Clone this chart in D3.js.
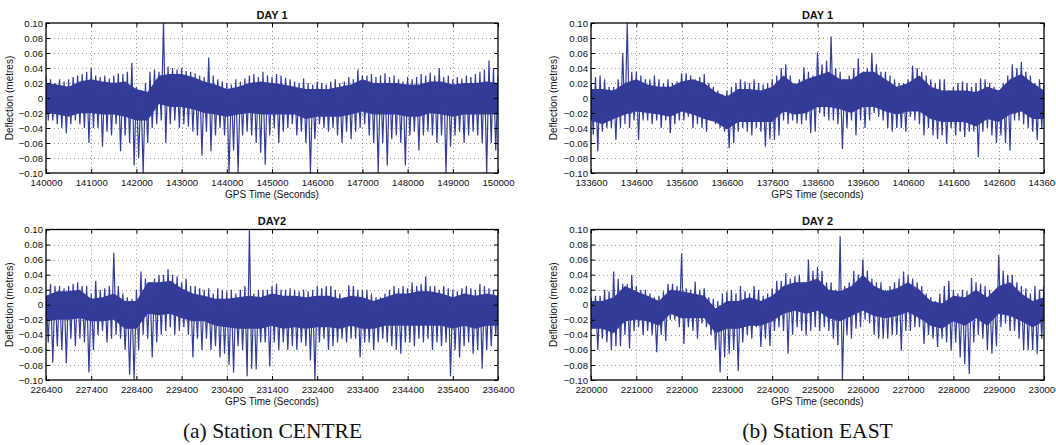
<!DOCTYPE html>
<html>
<head>
<meta charset="utf-8">
<script src="https://cdn.jsdelivr.net/npm/d3@7"></script>
<style>
  body { margin: 0; background: #fff; }
  svg { display: block; }
</style>
</head>
<body>
<svg id="chart" width="1056" height="445"></svg>
<script>
// ---- Deflection records (metres) ----
// Solid band of the trace, sampled every 250 s
// Peaks / troughs of the trace, one per 100 s bin

// Station CENTRE, day 1 (140000 - 150000 s)
const centreDay1Ticks = [140000, 141000, 142000, 143000, 144000, 145000, 146000, 147000, 148000, 149000, 150000];
const centreDay1Upper = [0.020,0.018,0.015,0.022,0.025,0.022,0.020,0.022,0.012,0.008,
  0.030,0.032,0.032,0.028,0.022,0.018,0.012,0.015,0.020,0.022,
  0.020,0.018,0.015,0.012,0.012,0.012,0.015,0.018,0.025,0.020,
  0.020,0.020,0.018,0.018,0.022,0.022,0.018,0.020,0.020,0.022,
  0.020];
const centreDay1Lower = [-0.020,-0.022,-0.025,-0.020,-0.020,-0.022,-0.022,-0.025,-0.030,-0.030,
  -0.008,-0.012,-0.012,-0.015,-0.020,-0.022,-0.025,-0.022,-0.020,-0.022,
  -0.022,-0.022,-0.022,-0.028,-0.025,-0.025,-0.025,-0.022,-0.018,-0.022,
  -0.022,-0.022,-0.025,-0.025,-0.020,-0.022,-0.025,-0.022,-0.022,-0.022,
  -0.022];
const centreDay1Peaks = [0.030,0.025,0.020,0.025,0.022,0.025,0.028,0.030,0.032,0.035,
  0.040,0.030,0.028,0.030,0.026,0.030,0.033,0.032,0.035,0.047,
  0.015,0.010,0.020,0.035,0.038,0.035,0.100,0.042,0.040,0.038,
  0.040,0.036,0.035,0.033,0.030,0.028,0.054,0.030,0.025,0.022,
  0.020,0.018,0.025,0.022,0.026,0.030,0.032,0.028,0.035,0.030,
  0.028,0.032,0.030,0.027,0.025,0.022,0.020,0.026,0.020,0.018,
  0.022,0.020,0.018,0.022,0.025,0.020,0.022,0.028,0.025,0.038,
  0.030,0.030,0.032,0.028,0.030,0.033,0.028,0.030,0.025,0.022,
  0.028,0.025,0.028,0.032,0.030,0.034,0.030,0.040,0.028,0.030,
  0.025,0.028,0.026,0.030,0.028,0.032,0.035,0.038,0.050,0.040,
  0.030];
const centreDay1Troughs = [-0.030,-0.030,-0.035,-0.040,-0.047,-0.035,-0.030,-0.035,-0.040,-0.060,
  -0.040,-0.040,-0.065,-0.045,-0.050,-0.035,-0.071,-0.050,-0.060,-0.090,
  -0.080,-0.100,-0.060,-0.040,-0.035,-0.030,-0.060,-0.035,-0.030,-0.040,
  -0.035,-0.038,-0.045,-0.050,-0.077,-0.045,-0.071,-0.050,-0.040,-0.050,
  -0.100,-0.070,-0.100,-0.050,-0.045,-0.050,-0.060,-0.073,-0.089,-0.050,
  -0.040,-0.060,-0.045,-0.040,-0.035,-0.050,-0.045,-0.060,-0.100,-0.055,
  -0.035,-0.040,-0.045,-0.040,-0.050,-0.060,-0.045,-0.055,-0.045,-0.040,
  -0.035,-0.050,-0.060,-0.100,-0.060,-0.090,-0.055,-0.050,-0.060,-0.090,
  -0.050,-0.045,-0.070,-0.050,-0.045,-0.050,-0.060,-0.050,-0.100,-0.065,
  -0.050,-0.045,-0.060,-0.050,-0.045,-0.050,-0.060,-0.100,-0.060,-0.070,
  -0.040];

// Station EAST, day 1 (133600 - 143600 s)
const eastDay1Ticks = [133600, 134600, 135600, 136600, 137600, 138600, 139600, 140600, 141600, 142600, 143600];
const eastDay1Upper = [0.012,0.012,0.010,0.020,0.025,0.018,0.015,0.015,0.022,0.025,
  0.020,0.008,0.002,0.012,0.012,0.010,0.015,0.030,0.018,0.025,
  0.030,0.035,0.025,0.025,0.035,0.035,0.025,0.015,0.020,0.030,
  0.015,0.010,0.010,0.010,0.008,0.015,0.010,0.025,0.032,0.020,
  0.010];
const eastDay1Lower = [-0.030,-0.035,-0.028,-0.022,-0.018,-0.020,-0.022,-0.025,-0.018,-0.022,
  -0.028,-0.032,-0.042,-0.032,-0.032,-0.032,-0.032,-0.018,-0.022,-0.020,
  -0.012,-0.012,-0.015,-0.020,-0.012,-0.012,-0.018,-0.022,-0.018,-0.018,
  -0.028,-0.032,-0.032,-0.032,-0.038,-0.028,-0.032,-0.022,-0.018,-0.028,
  -0.028];
const eastDay1Peaks = [0.020,0.028,0.030,0.025,0.015,0.015,0.025,0.060,0.100,0.035,
  0.035,0.030,0.025,0.025,0.030,0.025,0.020,0.025,0.020,0.022,
  0.033,0.033,0.030,0.025,0.028,0.032,0.020,0.015,0.010,0.005,
  0.010,0.015,0.020,0.025,0.022,0.020,0.025,0.020,0.018,0.020,
  0.025,0.030,0.040,0.045,0.030,0.020,0.025,0.041,0.035,0.030,
  0.061,0.045,0.050,0.082,0.040,0.035,0.025,0.030,0.040,0.053,
  0.030,0.040,0.060,0.045,0.035,0.035,0.030,0.025,0.020,0.020,
  0.025,0.043,0.040,0.035,0.030,0.025,0.020,0.025,0.025,0.010,
  0.015,0.020,0.022,0.020,0.015,0.020,0.026,0.025,0.020,0.015,
  0.010,0.020,0.030,0.045,0.040,0.048,0.035,0.030,0.020,0.025,
  0.020];
const eastDay1Troughs = [-0.049,-0.071,-0.045,-0.040,-0.040,-0.056,-0.040,-0.035,-0.040,-0.030,
  -0.056,-0.030,-0.030,-0.035,-0.030,-0.040,-0.030,-0.047,-0.035,-0.030,
  -0.030,-0.025,-0.040,-0.035,-0.040,-0.045,-0.030,-0.035,-0.040,-0.045,
  -0.067,-0.060,-0.045,-0.040,-0.045,-0.050,-0.040,-0.045,-0.065,-0.055,
  -0.056,-0.050,-0.030,-0.035,-0.030,-0.034,-0.035,-0.030,-0.047,-0.045,
  -0.020,-0.025,-0.030,-0.030,-0.035,-0.068,-0.040,-0.030,-0.050,-0.030,
  -0.040,-0.030,-0.020,-0.025,-0.030,-0.040,-0.045,-0.040,-0.040,-0.045,
  -0.025,-0.030,-0.035,-0.050,-0.040,-0.050,-0.055,-0.050,-0.061,-0.040,
  -0.050,-0.045,-0.052,-0.045,-0.045,-0.079,-0.045,-0.040,-0.050,-0.060,
  -0.050,-0.060,-0.070,-0.030,-0.030,-0.035,-0.040,-0.045,-0.056,-0.040,
  -0.030];

// Station CENTRE, day 2 (226400 - 236400 s)
const centreDay2Ticks = [226400, 227400, 228400, 229400, 230400, 231400, 232400, 233400, 234400, 235400, 236400];
const centreDay2Upper = [0.012,0.018,0.018,0.020,0.008,0.010,0.015,0.005,0.005,0.030,
  0.030,0.032,0.022,0.015,0.012,0.008,0.008,0.010,0.012,0.010,
  0.015,0.012,0.012,0.010,0.012,0.012,0.008,0.012,0.010,0.005,
  0.010,0.015,0.015,0.018,0.018,0.015,0.010,0.015,0.012,0.015,
  0.012];
const centreDay2Lower = [-0.022,-0.020,-0.020,-0.018,-0.022,-0.022,-0.020,-0.032,-0.032,-0.012,
  -0.014,-0.012,-0.018,-0.022,-0.022,-0.028,-0.030,-0.032,-0.032,-0.032,
  -0.028,-0.032,-0.030,-0.032,-0.030,-0.030,-0.032,-0.028,-0.032,-0.032,
  -0.028,-0.028,-0.028,-0.028,-0.028,-0.028,-0.032,-0.028,-0.032,-0.028,
  -0.028];
const centreDay2Peaks = [0.012,0.028,0.025,0.025,0.022,0.025,0.028,0.030,0.025,0.025,
  0.015,0.032,0.020,0.022,0.025,0.069,0.025,0.015,0.010,0.008,
  0.020,0.044,0.035,0.030,0.035,0.040,0.040,0.047,0.040,0.038,
  0.030,0.035,0.025,0.025,0.022,0.020,0.022,0.015,0.022,0.020,
  0.018,0.020,0.015,0.020,0.025,0.100,0.015,0.020,0.020,0.020,
  0.025,0.028,0.020,0.020,0.022,0.020,0.018,0.020,0.018,0.020,
  0.025,0.022,0.025,0.025,0.020,0.015,0.010,0.026,0.025,0.020,
  0.020,0.020,0.015,0.010,0.010,0.015,0.020,0.025,0.022,0.025,
  0.022,0.030,0.025,0.028,0.038,0.025,0.025,0.020,0.025,0.022,
  0.020,0.018,0.022,0.025,0.022,0.020,0.028,0.025,0.022,0.020,
  0.020];
const centreDay2Troughs = [-0.050,-0.077,-0.055,-0.060,-0.078,-0.045,-0.055,-0.045,-0.050,-0.090,
  -0.060,-0.040,-0.035,-0.050,-0.045,-0.040,-0.045,-0.060,-0.093,-0.100,
  -0.060,-0.040,-0.045,-0.070,-0.050,-0.040,-0.035,-0.030,-0.040,-0.035,
  -0.030,-0.040,-0.070,-0.045,-0.060,-0.045,-0.060,-0.055,-0.070,-0.065,
  -0.080,-0.090,-0.055,-0.060,-0.095,-0.085,-0.086,-0.050,-0.050,-0.082,
  -0.050,-0.060,-0.050,-0.060,-0.055,-0.060,-0.050,-0.055,-0.074,-0.100,
  -0.050,-0.045,-0.060,-0.055,-0.050,-0.045,-0.050,-0.045,-0.045,-0.070,
  -0.050,-0.050,-0.060,-0.050,-0.045,-0.050,-0.055,-0.060,-0.065,-0.050,
  -0.050,-0.055,-0.045,-0.050,-0.045,-0.060,-0.050,-0.055,-0.050,-0.095,
  -0.060,-0.070,-0.055,-0.050,-0.065,-0.060,-0.085,-0.060,-0.055,-0.040,
  -0.030];

// Station EAST, day 2 (220000 - 230000 s)
const eastDay2Ticks = [220000, 221000, 222000, 223000, 224000, 225000, 226000, 227000, 228000, 229000, 230000];
const eastDay2Upper = [0.005,0.005,0.010,0.025,0.018,0.012,0.005,0.020,0.018,0.015,
  0.012,-0.005,0.005,0.005,0.010,0.005,0.012,0.025,0.030,0.030,
  0.035,0.020,0.018,0.025,0.040,0.025,0.018,0.022,0.030,0.020,
  0.005,0.002,0.012,0.010,0.020,0.010,0.025,0.030,0.015,0.005,
  0.010];
const eastDay2Lower = [-0.032,-0.032,-0.038,-0.022,-0.020,-0.022,-0.028,-0.012,-0.018,-0.018,
  -0.018,-0.038,-0.032,-0.032,-0.028,-0.028,-0.022,-0.012,-0.008,-0.012,
  -0.008,-0.018,-0.022,-0.015,-0.008,-0.015,-0.018,-0.015,-0.010,-0.018,
  -0.028,-0.032,-0.022,-0.028,-0.018,-0.028,-0.012,-0.015,-0.022,-0.030,
  -0.022];
const eastDay2Peaks = [0.010,0.012,0.012,0.020,0.018,0.044,0.035,0.028,0.028,0.040,
  0.025,0.020,0.020,0.015,0.010,0.012,0.018,0.028,0.028,0.025,
  0.068,0.022,0.020,0.031,0.020,0.022,0.010,0.008,0.005,0.015,
  0.018,0.020,0.015,0.025,0.018,0.015,0.025,0.020,0.012,0.015,
  0.022,0.032,0.032,0.042,0.035,0.038,0.040,0.030,0.060,0.045,
  0.050,0.045,0.030,0.030,0.020,0.091,0.025,0.030,0.045,0.040,
  0.060,0.045,0.035,0.030,0.030,0.020,0.025,0.030,0.035,0.044,
  0.040,0.035,0.030,0.025,0.015,0.010,0.005,0.015,0.025,0.032,
  0.020,0.015,0.020,0.018,0.036,0.030,0.028,0.025,0.020,0.015,
  0.066,0.045,0.040,0.040,0.030,0.025,0.022,0.015,0.025,0.020,
  0.025];
const eastDay2Troughs = [-0.030,-0.060,-0.045,-0.050,-0.060,-0.055,-0.055,-0.040,-0.058,-0.035,
  -0.030,-0.040,-0.035,-0.040,-0.063,-0.040,-0.048,-0.020,-0.020,-0.030,
  -0.052,-0.030,-0.035,-0.045,-0.025,-0.030,-0.040,-0.060,-0.090,-0.070,
  -0.065,-0.060,-0.088,-0.050,-0.040,-0.045,-0.030,-0.056,-0.045,-0.055,
  -0.035,-0.030,-0.035,-0.065,-0.040,-0.030,-0.035,-0.041,-0.035,-0.030,
  -0.035,-0.030,-0.035,-0.045,-0.054,-0.100,-0.040,-0.045,-0.032,-0.030,
  -0.020,-0.025,-0.040,-0.045,-0.045,-0.045,-0.040,-0.040,-0.061,-0.035,
  -0.035,-0.030,-0.030,-0.052,-0.040,-0.045,-0.056,-0.045,-0.050,-0.061,
  -0.050,-0.070,-0.079,-0.092,-0.050,-0.040,-0.045,-0.060,-0.065,-0.055,
  -0.030,-0.025,-0.035,-0.035,-0.045,-0.060,-0.060,-0.060,-0.065,-0.045,
  -0.035];

// Shared deflection axis
const deflectionTicks = [-0.10, -0.08, -0.06, -0.04, -0.02, 0, 0.02, 0.04, 0.06, 0.08, 0.10];

// ---- Layout ----
const BAND_STEP = 250;   // seconds between band samples
const BIN_STEP = 100;    // seconds per peak/trough bin
const LINE = "#333c98";
const SANS = "'Liberation Sans', Arial, Helvetica, sans-serif";

const panels = [
  { id: "p1", title: "DAY 1", xLabel: "GPS Time (Seconds)", ticks: centreDay1Ticks,
    upper: centreDay1Upper, lower: centreDay1Lower, peaks: centreDay1Peaks, troughs: centreDay1Troughs,
    left: 46, top: 23, right: 498, bottom: 173, yLabelX: 9 },
  { id: "p2", title: "DAY 1", xLabel: "GPS Time (seconds)", ticks: eastDay1Ticks,
    upper: eastDay1Upper, lower: eastDay1Lower, peaks: eastDay1Peaks, troughs: eastDay1Troughs,
    left: 591, top: 23, right: 1044, bottom: 173, yLabelX: 553 },
  { id: "p3", title: "DAY2", xLabel: "GPS Time (Seconds)", ticks: centreDay2Ticks,
    upper: centreDay2Upper, lower: centreDay2Lower, peaks: centreDay2Peaks, troughs: centreDay2Troughs,
    left: 46, top: 229.5, right: 498, bottom: 380, yLabelX: 9 },
  { id: "p4", title: "DAY 2", xLabel: "GPS Time (seconds)", ticks: eastDay2Ticks,
    upper: eastDay2Upper, lower: eastDay2Lower, peaks: eastDay2Peaks, troughs: eastDay2Troughs,
    left: 591, top: 229.5, right: 1044, bottom: 380, yLabelX: 553 }
];

const captions = [
  { text: "(a) Station CENTRE", x: 272.5 },
  { text: "(b) Station EAST", x: 817.5 }
];

const svg = d3.select("#chart");
const defs = svg.append("defs");

const fmtY = v => (Math.abs(v) < 1e-9 ? "0" : d3.format(".2f")(v));

panels.forEach(p => {
  const t0 = p.ticks[0], t1 = p.ticks[p.ticks.length - 1];
  const x = d3.scaleLinear().domain([t0, t1]).range([p.left, p.right]);
  const y = d3.scaleLinear().domain([-0.1, 0.1]).range([p.bottom, p.top]);

  defs.append("clipPath").attr("id", "clip-" + p.id)
    .append("rect")
    .attr("x", p.left).attr("y", p.top)
    .attr("width", p.right - p.left).attr("height", p.bottom - p.top);

  const g = svg.append("g");

  // dotted grid
  const grid = g.append("g")
    .attr("stroke", "#8a8a8a").attr("stroke-width", 0.9)
    .attr("stroke-dasharray", "1,3");
  grid.selectAll("line.gx").data(p.ticks.slice(1, -1)).join("line")
    .attr("x1", d => Math.round(x(d)) + 0.5).attr("x2", d => Math.round(x(d)) + 0.5)
    .attr("y1", p.top).attr("y2", p.bottom);
  grid.selectAll("line.gy").data(deflectionTicks.slice(1, -1)).join("line")
    .attr("y1", d => Math.round(y(d)) + 0.5).attr("y2", d => Math.round(y(d)) + 0.5)
    .attr("x1", p.left).attr("x2", p.right);

  // series
  const plot = g.append("g").attr("clip-path", "url(#clip-" + p.id + ")");

  const band = d3.area()
    .x((d, i) => x(t0 + i * BAND_STEP))
    .y0((d, i) => y(p.lower[i]))
    .y1(d => y(d));
  plot.append("path").datum(p.upper)
    .attr("fill", LINE).attr("d", band);

  const trace = [];
  p.peaks.forEach((v, i) => {
    trace.push([t0 + i * BIN_STEP, v]);
    trace.push([t0 + i * BIN_STEP + BIN_STEP / 2, p.troughs[i]]);
  });
  plot.append("path").datum(trace)
    .attr("fill", "none").attr("stroke", LINE)
    .attr("stroke-width", 1.2).attr("stroke-linejoin", "miter")
    .attr("d", d3.line().x(d => x(d[0])).y(d => y(d[1])));

  // axes with inward ticks
  const styleAxis = sel => {
    sel.select(".domain").remove();
    sel.selectAll(".tick line").attr("stroke", "#000").attr("stroke-width", 1);
    sel.selectAll("text").attr("fill", "#111")
      .style("font-family", SANS).style("font-size", "9.6px");
  };
  g.append("g").attr("transform", `translate(0,${p.bottom})`)
    .call(d3.axisBottom(x).tickValues(p.ticks).tickFormat(d3.format("d")).tickSize(-4).tickPadding(6))
    .call(styleAxis);
  g.append("g").attr("transform", `translate(0,${p.top})`)
    .call(d3.axisTop(x).tickValues(p.ticks).tickFormat("").tickSize(-4))
    .call(styleAxis);
  g.append("g").attr("transform", `translate(${p.left},0)`)
    .call(d3.axisLeft(y).tickValues(deflectionTicks).tickFormat(fmtY).tickSize(-4).tickPadding(3))
    .call(styleAxis);
  g.append("g").attr("transform", `translate(${p.right},0)`)
    .call(d3.axisRight(y).tickValues(deflectionTicks).tickFormat("").tickSize(-4))
    .call(styleAxis);

  // frame
  g.append("rect")
    .attr("x", p.left).attr("y", p.top)
    .attr("width", p.right - p.left).attr("height", p.bottom - p.top)
    .attr("fill", "none").attr("stroke", "#000").attr("stroke-width", 1.3);

  // labels
  const cx = (p.left + p.right) / 2, cy = (p.top + p.bottom) / 2;
  g.append("text").attr("x", cx).attr("y", p.top - 4.5)
    .attr("text-anchor", "middle").attr("fill", "#111")
    .style("font-family", SANS).style("font-size", "11px").style("font-weight", "bold")
    .text(p.title);
  g.append("text").attr("x", cx).attr("y", p.bottom + 24.5)
    .attr("text-anchor", "middle").attr("fill", "#111")
    .style("font-family", SANS).style("font-size", "10px")
    .text(p.xLabel);
  g.append("text")
    .attr("transform", `translate(${p.yLabelX + 3.5},${cy}) rotate(-90)`)
    .attr("text-anchor", "middle").attr("fill", "#111")
    .style("font-family", SANS).style("font-size", "10px")
    .text("Deflection (metres)");
});

svg.selectAll("text.caption").data(captions).join("text")
  .attr("class", "caption")
  .attr("x", d => d.x).attr("y", 438)
  .attr("text-anchor", "middle").attr("fill", "#111")
  .style("font-family", "'Liberation Serif', 'Times New Roman', serif")
  .style("font-size", "21.5px")
  .text(d => d.text);
</script>
</body>
</html>
